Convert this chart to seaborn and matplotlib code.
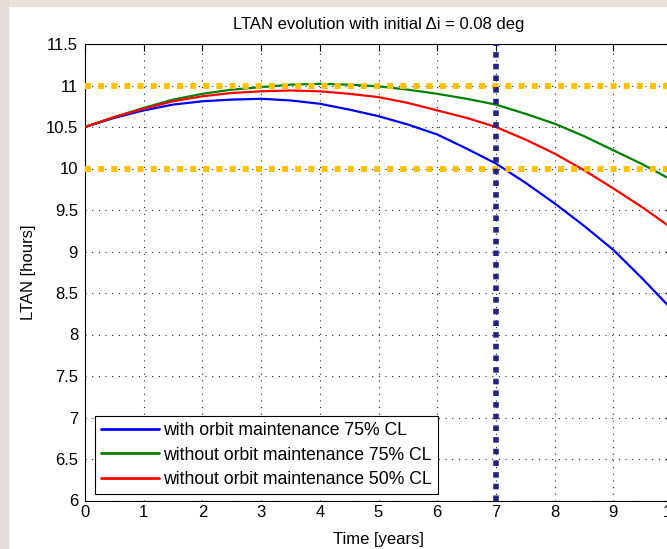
import matplotlib
matplotlib.use("Agg")
import matplotlib.pyplot as plt
import seaborn as sns
import pandas as pd
from matplotlib.patches import Rectangle

# ---- data ----
years = [0, 0.5, 1, 1.5, 2, 2.5, 3, 3.5, 4, 4.5, 5, 5.5, 6, 6.5, 7, 7.5, 8, 8.5, 9, 9.5, 10]
with_maint_75 = [10.50, 10.61, 10.70, 10.77, 10.81, 10.83, 10.84, 10.82, 10.78, 10.71, 10.63,
                 10.53, 10.41, 10.24, 10.06, 9.83, 9.58, 9.31, 9.02, 8.67, 8.30]
without_maint_75 = [10.50, 10.62, 10.73, 10.83, 10.90, 10.95, 10.98, 11.01, 11.02, 11.01, 10.99,
                    10.95, 10.90, 10.84, 10.77, 10.66, 10.54, 10.39, 10.22, 10.05, 9.86]
without_maint_50 = [10.50, 10.62, 10.72, 10.81, 10.87, 10.91, 10.93, 10.94, 10.93, 10.90, 10.86,
                    10.79, 10.70, 10.61, 10.50, 10.35, 10.18, 9.98, 9.76, 9.53, 9.28]
labels = ["with orbit maintenance 75% CL",
          "without orbit maintenance 75% CL",
          "without orbit maintenance 50% CL"]
limits = [10, 11]
mission_end = 7
xticks = list(range(0, 11))
yticks = [6, 6.5, 7, 7.5, 8, 8.5, 9, 9.5, 10, 10.5, 11, 11.5]
title = "LTAN evolution with initial \u0394i = 0.08 deg"
xlabel = "Time [years]"
ylabel = "LTAN [hours]"

df = pd.concat([
    pd.DataFrame({"t": years, "v": with_maint_75, "s": labels[0]}),
    pd.DataFrame({"t": years, "v": without_maint_75, "s": labels[1]}),
    pd.DataFrame({"t": years, "v": without_maint_50, "s": labels[2]}),
])

sns.set_theme(style="white")
plt.rcParams["font.family"] = ["Liberation Sans", "DejaVu Sans"]
plt.rcParams["font.size"] = 12
for k in ["text.color", "axes.labelcolor", "xtick.color", "ytick.color"]:
    plt.rcParams[k] = "black"

fig = plt.figure(figsize=(6.67, 5.49), dpi=100, facecolor="white")
# background strips of the screenshot
fig.patches.append(Rectangle((0, 1 - 6 / 549), 1, 6 / 549, transform=fig.transFigure,
                             color="#ebe3da", zorder=0))
fig.patches.append(Rectangle((0, 0), 8 / 667, 1, transform=fig.transFigure,
                             color="#e3ddd6", zorder=0))

ax = fig.add_axes([85 / 667, 1 - 500.5 / 549, 587 / 667, 456.5 / 549])
ax.set_facecolor("white")

palette = {labels[0]: "#0000ff", labels[1]: "#008000", labels[2]: "#ff0000"}
sns.lineplot(data=df, x="t", y="v", hue="s", palette=palette, ax=ax,
             linewidth=1.6, legend=True, zorder=3)

for lv in limits:
    ax.axhline(lv, color="#ffc000", linewidth=4.3, linestyle=(0, (1, 1.2)), zorder=4)
ax.axvline(mission_end, color="#23237f", linewidth=4.0, linestyle=(0, (1, 1.1)), zorder=5)

ax.set_xlim(0, 10)
ax.set_ylim(6, 11.5)
ax.set_xticks(xticks)
ax.set_yticks(yticks)
ax.set_xticklabels([str(x) for x in xticks])
ax.set_yticklabels([("%g" % y) for y in yticks])
ax.grid(True, color="#222222", linestyle=(0, (1, 5)), linewidth=0.8)
ax.tick_params(direction="in", length=5, width=0.8, colors="black",
               top=True, right=True, labelsize=12)
ax.tick_params(axis="y", pad=5)
ax.tick_params(axis="x", pad=3)
for sp in ax.spines.values():
    sp.set_color("black")
    sp.set_linewidth(0.8)

ax.set_title(title, fontsize=12, pad=11)
ax.set_xlabel(xlabel, fontsize=12, labelpad=9)
ax.set_ylabel(ylabel, fontsize=12, labelpad=7)

leg = ax.legend(loc="lower left", bbox_to_anchor=(0.0165, 0.014), borderaxespad=0,
                fontsize=12.7, frameon=True, fancybox=False, handlelength=3.3,
                handletextpad=0.25, labelspacing=0.42, borderpad=0.35)
leg.get_frame().set_edgecolor("black")
leg.get_frame().set_linewidth(0.8)
leg.get_frame().set_alpha(1)
for h in leg.get_lines():
    h.set_linewidth(2)

fig.savefig("out.png", dpi=100, facecolor=fig.get_facecolor())
